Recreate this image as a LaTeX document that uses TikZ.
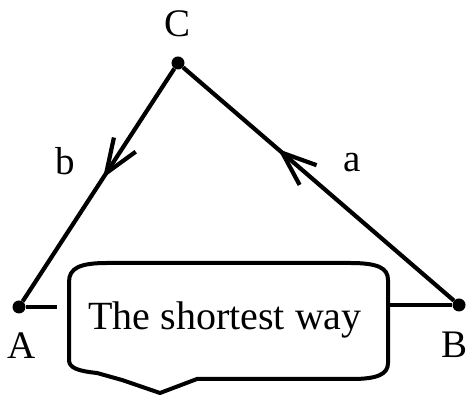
\documentclass[tikz,border=0pt]{standalone}
\usepackage{fontspec}
\setmainfont{Liberation Serif}
\usetikzlibrary{arrows.meta, decorations.markings}
\definecolor{ink}{HTML}{000000}
\tikzset{
  dot/.style={circle, fill=ink, inner sep=0pt, minimum size=13pt},
  vlabel/.style={anchor=base, inner sep=0pt, text=ink,
    font=\fontsize{39}{44}\selectfont},
  side/.style={line width=4.2pt, draw=ink},
  flow/.style={side, postaction={decorate}, decoration={markings,
    mark=at position #1 with {\arrow{Straight Barb[length=34pt, width=26pt]}}}},
  callout/.style={line width=4pt, draw=ink, line join=round},
  say/.style={anchor=base, inner sep=0pt, text=ink,
    font=\fontsize{40}{46}\selectfont}
}
\begin{document}
\begin{tikzpicture}[x=1pt, y=1pt]
  \useasboundingbox (0,0) rectangle (469,398);

  % ---- Vertices ------------------------------------------------------------
  \node[dot] (C) at (178, 335) {};
  \node[dot] (A) at ( 19,  91) {};
  \node[dot] (B) at (459,  93) {};

  \node[vlabel] (lC) at (178, 361) {C};
  \node[vlabel] (lA) at ( 22,  39) {A};
  \node[vlabel] (lB) at (455,  40) {B};

  % ---- Sides with their direction ------------------------------------------
  \draw[flow=0.65] (B) -- (C);
  \draw[flow=0.47] (C) -- (A);

  \node[vlabel] (lb) at ( 65, 223) {b};
  \node[vlabel] (la) at (352, 226) {a};

  % ---- Speech bubble -------------------------------------------------------
  \draw[callout] (69, 116) .. controls (69, 130) and (80, 135) .. (107, 135)
    -- (350, 135) .. controls (378, 135) and (388, 130) .. (388, 118)
    -- (388, 35) .. controls (388, 24) and (378, 19) .. (352, 19)
    -- (197, 19) -- (160, 5) -- (122, 18) -- (97, 25)
    .. controls (78, 27) and (69, 30) .. (69, 38) -- cycle;
  \node[say] (way) at (225, 68) {The shortest way};

  % ---- Bottom side, broken by the bubble -----------------------------------
  \coordinate (wayW) at ( 57, 91);
  \coordinate (wayE) at (388, 93);
  \draw[side] (A) -- (wayW);
  \draw[side] (wayE) -- (B);

\end{tikzpicture}
\end{document}
